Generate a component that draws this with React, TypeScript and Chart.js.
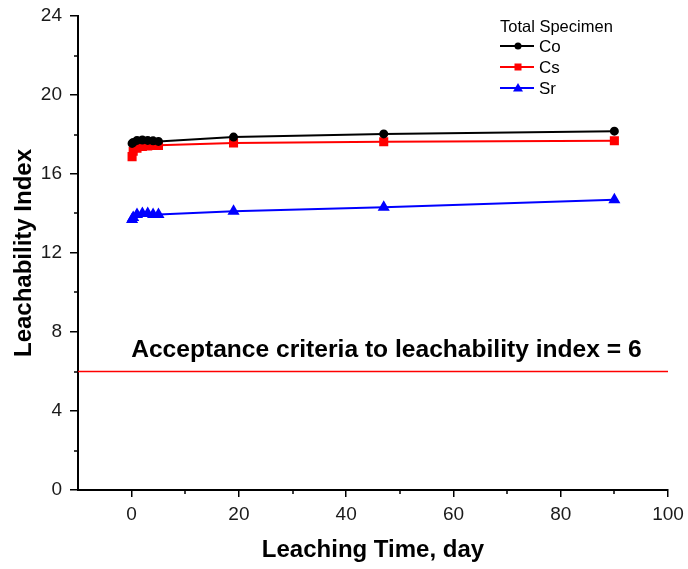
import React, { useEffect, useRef } from "react";
import { Chart, registerables } from "chart.js";

Chart.register(...registerables);

const days = [0.083, 0.29, 1, 2, 3, 4, 5, 19, 47, 90];
const coValues = [17.55, 17.6, 17.7, 17.72, 17.7, 17.68, 17.65, 17.87, 18.03, 18.17];
const csValues = [16.88, 17.15, 17.3, 17.4, 17.42, 17.45, 17.45, 17.57, 17.63, 17.68];
const srValues = [13.7, 13.8, 13.95, 14.0, 14.0, 13.95, 13.95, 14.12, 14.32, 14.7];
const criteriaX = [-10, 100];
const criteriaY = [6, 6];
const seriesNames = ["Co", "Cs", "Sr"];
const legendTitle = "Total Specimen";
const annotationText = "Acceptance criteria to leachability index = 6";
const xTitle = "Leaching Time, day";
const yTitle = "Leachability Index";
const xMinorTicks = [10, 30, 50, 70, 90];
const yMinorTicks = [2, 6, 10, 14, 18, 22];

const W = 688;
const H = 569;
const FONT = "'Liberation Sans', Arial, sans-serif";

export default function App() {
  const ref = useRef<HTMLCanvasElement | null>(null);
  useEffect(() => {
    if (!ref.current) return;
    const pts = (ys: number[]) => days.map((d, i) => ({ x: d, y: ys[i] }));
    const extras = {
      id: "extras",
      afterDraw(chart: any) {
        const ctx = chart.ctx;
        const xs = chart.scales.x;
        const ys = chart.scales.y;
        const area = chart.chartArea;
        ctx.save();
        // minor ticks
        ctx.strokeStyle = "#000";
        ctx.lineWidth = 1.5;
        ctx.beginPath();
        xMinorTicks.forEach((v) => {
          const px = Math.round(xs.getPixelForValue(v));
          ctx.moveTo(px, area.bottom);
          ctx.lineTo(px, area.bottom + 4);
        });
        yMinorTicks.forEach((v) => {
          const py = Math.round(ys.getPixelForValue(v));
          ctx.moveTo(area.left, py);
          ctx.lineTo(area.left - 4, py);
        });
        ctx.stroke();
        // annotation
        ctx.fillStyle = "#000";
        ctx.font = `bold 24.6px ${FONT}`;
        ctx.textAlign = "center";
        ctx.textBaseline = "middle";
        ctx.fillText(annotationText, xs.getPixelForValue(47.5), ys.getPixelForValue(7.1));
        // legend
        const lx = 500;
        const ly = 27;
        ctx.font = `16.5px ${FONT}`;
        ctx.textAlign = "left";
        ctx.fillStyle = "#000";
        ctx.fillText(legendTitle, lx, ly);
        chart.data.datasets.slice(0, 3).forEach((ds: any, i: number) => {
          const y = ly + 19 + i * 21;
          ctx.strokeStyle = ds.borderColor;
          ctx.lineWidth = 2;
          ctx.beginPath();
          ctx.moveTo(lx, y);
          ctx.lineTo(lx + 34, y);
          ctx.stroke();
          ctx.fillStyle = ds.pointBackgroundColor;
          const cx = lx + 18;
          if (ds.pointStyle === "circle") {
            ctx.beginPath();
            ctx.arc(cx, y, 3.5, 0, Math.PI * 2);
            ctx.fill();
          } else if (ds.pointStyle === "rect") {
            ctx.fillRect(cx - 3.5, y - 3.5, 7, 7);
          } else {
            ctx.beginPath();
            ctx.moveTo(cx, y - 5);
            ctx.lineTo(cx + 5, y + 3.5);
            ctx.lineTo(cx - 5, y + 3.5);
            ctx.closePath();
            ctx.fill();
          }
          ctx.fillStyle = "#000";
          ctx.font = `17px ${FONT}`;
          ctx.fillText(ds.label, lx + 39, y + 1);
        });
        ctx.restore();
      },
    };
    const chart = new Chart(ref.current, {
      type: "line",
      data: {
        datasets: [
          {
            label: seriesNames[0],
            data: pts(coValues),
            borderColor: "#000000",
            backgroundColor: "#000000",
            pointBackgroundColor: "#000000",
            pointBorderColor: "#000000",
            pointStyle: "circle",
            pointRadius: 3.5,
            borderWidth: 2,
          },
          {
            label: seriesNames[1],
            data: pts(csValues),
            borderColor: "#ff0000",
            backgroundColor: "#ff0000",
            pointBackgroundColor: "#ff0000",
            pointBorderColor: "#ff0000",
            pointStyle: "rect",
            pointRadius: 5,
            borderWidth: 2,
          },
          {
            label: seriesNames[2],
            data: pts(srValues),
            borderColor: "#0000ff",
            backgroundColor: "#0000ff",
            pointBackgroundColor: "#0000ff",
            pointBorderColor: "#0000ff",
            pointStyle: "triangle",
            pointRadius: 5,
            borderWidth: 2,
          },
          {
            label: "criteria",
            data: criteriaX.map((x, i) => ({ x, y: criteriaY[i] })),
            borderColor: "#ff0000",
            borderWidth: 1.5,
            pointRadius: 0,
          },
        ],
      },
      options: {
        animation: false,
        responsive: true,
        maintainAspectRatio: false,
        layout: { padding: { top: 16, right: 20, left: 0, bottom: 0 } },
        plugins: { legend: { display: false }, tooltip: { enabled: false } },
        scales: {
          x: {
            type: "linear",
            min: -10,
            max: 100,
            afterFit: (s: any) => {
              s.height = H - 490;
              s.paddingLeft = 0;
              s.paddingRight = 0;
            },
            ticks: {
              stepSize: 20,
              color: "#1a1a1a",
              font: { size: 19, family: FONT },
              padding: 6,
              maxRotation: 0,
              autoSkip: false,
              callback: (v: any) => (Number(v) % 20 === 0 ? String(v) : ""),
            },
            afterBuildTicks: (s: any) => {
              s.ticks = s.ticks.filter((t: any) => t.value % 20 === 0);
            },
            grid: {
              drawOnChartArea: false,
              drawTicks: true,
              tickLength: 7,
              lineWidth: 1.5,
              color: "#000",
            },
            border: { display: true, color: "#000", width: 2 },
            title: {
              display: true,
              text: xTitle,
              color: "#000",
              font: { size: 24, weight: "bold", family: FONT },
              padding: { top: 4 },
            },
          },
          y: {
            type: "linear",
            min: 0,
            max: 24,
            afterFit: (s: any) => {
              s.width = 78;
              s.paddingTop = 0;
              s.paddingBottom = 0;
            },
            ticks: {
              stepSize: 4,
              color: "#1a1a1a",
              font: { size: 19, family: FONT },
              padding: 8,
              autoSkip: false,
            },
            grid: {
              drawOnChartArea: false,
              drawTicks: true,
              tickLength: 8,
              lineWidth: 1.5,
              color: "#000",
            },
            border: { display: true, color: "#000", width: 2 },
            title: {
              display: true,
              text: yTitle,
              color: "#000",
              font: { size: 24, weight: "bold", family: FONT },
              padding: { top: 10, bottom: 4 },
            },
          },
        },
      },
      plugins: [extras],
    });
    return () => chart.destroy();
  }, []);
  return (
    <div style={{ position: "absolute", left: 0, top: 0, width: W, height: H, background: "#fff" }}>
      <canvas ref={ref} />
    </div>
  );
}
